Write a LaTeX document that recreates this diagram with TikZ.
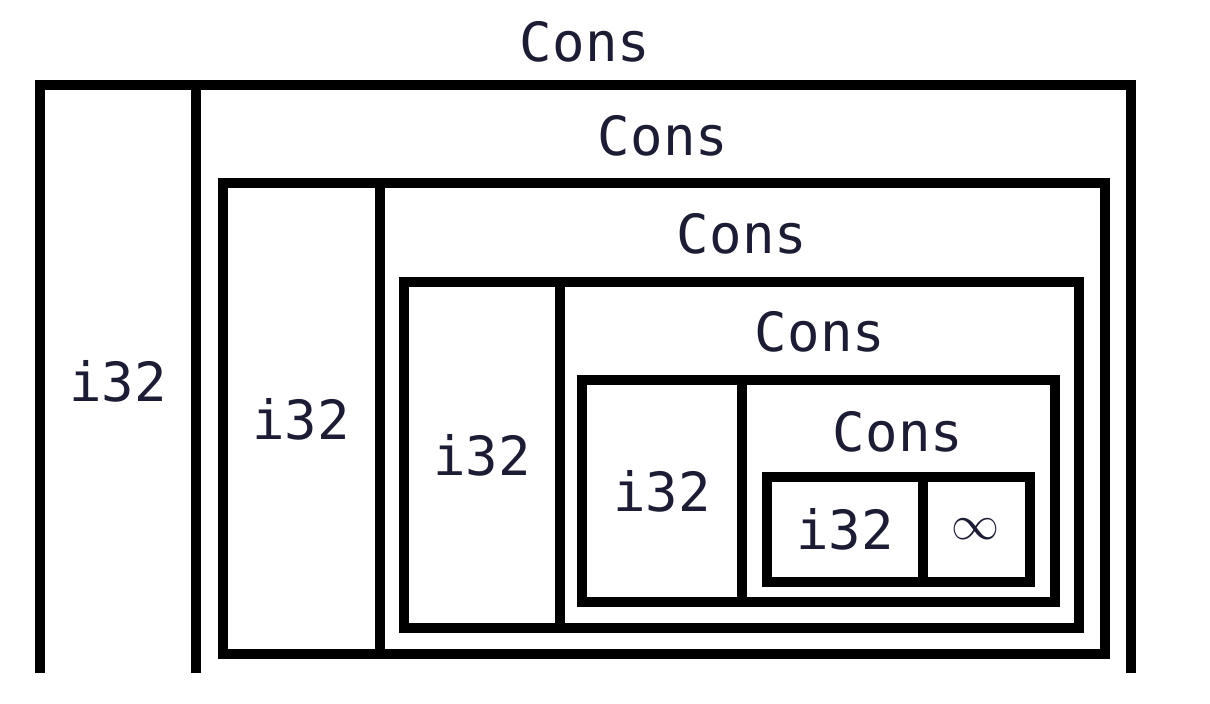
\documentclass[tikz,border=0pt]{standalone}
\usepackage{fontspec}
\newfontfamily\codefont{DejaVu Sans Mono}
\definecolor{inkcol}{RGB}{28,28,52}
\tikzset{
  wall/.style={line width=10.5pt},
  word/.style={font=\codefont\fontsize{54}{60}\selectfont, text=inkcol, inner sep=0pt},
  infsign/.style={font=\fontsize{10}{12}\selectfont, text=inkcol, inner sep=0pt, scale=4.8},
}

\begin{document}
\begin{tikzpicture}[x=1pt,y=-1pt]
\useasboundingbox (0,0) rectangle (1210,704);
% outermost Cons, left open at the bottom
\draw[wall] (40,673)--(40,85)--(1131,85)--(1131,673);
\draw[wall] (196,85)--(196,673);
\node[word] (cons1) at (585,42) {Cons};
\node[word] (int1) at (118,381) {i32};
% second level
\draw[wall] (223,183) rectangle (1105,654);
\draw[wall] (380,183)--(380,654);
\node[word] (cons2) at (663,136) {Cons};
\node[word] (int2) at (301,419) {i32};
% third level
\draw[wall] (404,282) rectangle (1079,628);
\draw[wall] (560,282)--(560,628);
\node[word] (cons3) at (742,234) {Cons};
\node[word] (int3) at (482,455) {i32};
% fourth level
\draw[wall] (582,380) rectangle (1055,602);
\draw[wall] (742,380)--(742,602);
\node[word] (cons4) at (820,332) {Cons};
\node[word] (int4) at (662,491) {i32};
% innermost
\draw[wall] (767,477) rectangle (1030,582);
\draw[wall] (923,477)--(923,582);
\node[word] (cons5) at (898,432) {Cons};
\node[word] (int5) at (845,529) {i32};
\node[infsign] (inf) at (975,529) {$\infty$};
\end{tikzpicture}
\end{document}
